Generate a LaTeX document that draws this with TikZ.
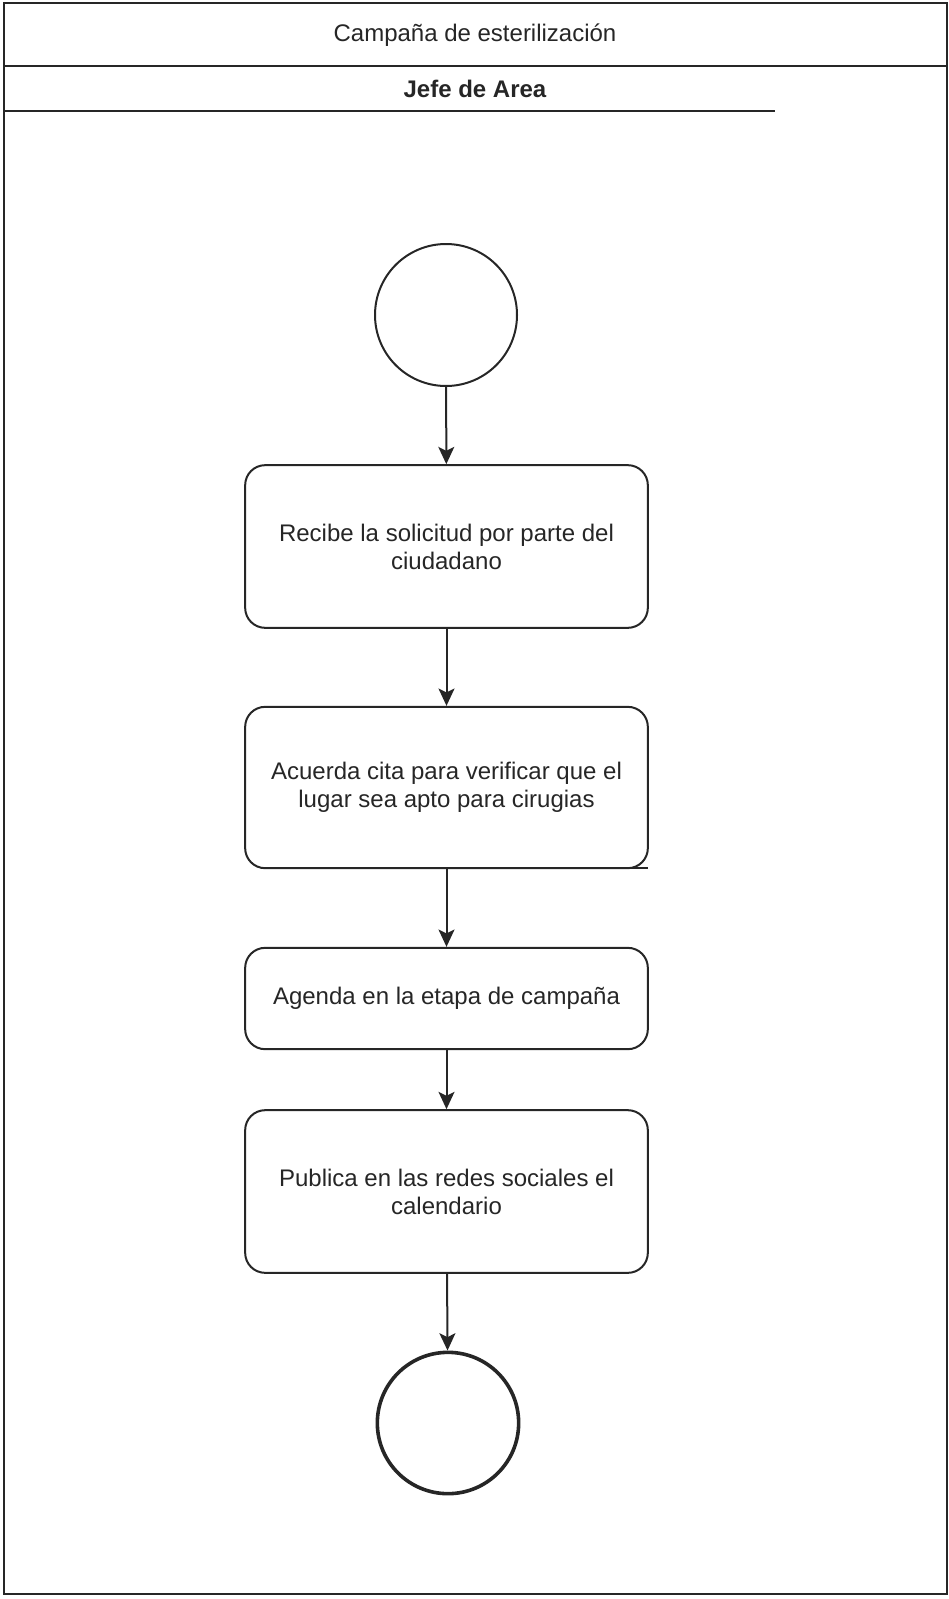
\documentclass[tikz,border=0pt]{standalone}
\usepackage{fontspec}
\setmainfont{Liberation Sans}
\usepackage{tikz}
\usetikzlibrary{arrows.meta}

\colorlet{ink}{black!85}

\tikzset{
    % activity boxes of the lane
    actbox/.style={draw=ink, line width=1.5pt, rounded corners=15pt,
        minimum width=302pt, align=center, text=ink,
        font=\fontsize{18}{21}\selectfont},
    startnode/.style={draw=ink, circle, line width=1.5pt, minimum size=106.5pt},
    endnode/.style={draw=ink, circle, line width=2.7pt, minimum size=106pt},
    flow/.style={draw=ink, line width=1.5pt,
        -{Stealth[length=13pt,width=12pt,inset=3pt]}}
}

\begin{document}
\begin{tikzpicture}[x=0.75pt, y=-0.75pt]
% Fix the page to the size of the scan
\useasboundingbox (0,0) rectangle (949,1599);
% Frame of the pool and its two header bands
\draw[ink, line width=1.2pt] (4,3) rectangle (947,1594);
\draw[ink, line width=1.5pt] (4,66) -- (947,66);
\draw[ink, line width=1.5pt] (4,111) -- (775,111);
\node (pool) at (475,35) {\fontsize{18}{21}\selectfont\color{ink}Campaña de esterilización};
\node (lane) at (475,89) {\fontsize{18}{21}\selectfont\bfseries\color{ink}Jefe de Area};

% The flow itself, top to bottom,
% start circle, four steps
% and the final circle.
\node[startnode] (inicio) at (446,315) {};
\node[actbox, minimum height=122pt] (recibe) at (446.5,546.5)
    {Recibe la solicitud por parte del\\ciudadano};
\node[actbox, minimum height=121pt] (acuerda) at (446.5,787.5)
    {Acuerda cita para verificar que el\\lugar sea apto para cirugias};
\node[actbox, minimum height=76pt] (agenda) at (446.5,998.5)
    {Agenda en la etapa de campaña};
\node[actbox, minimum height=122pt] (publica) at (446.5,1191.5)
    {Publica en las redes sociales el\\calendario};
\node[endnode] (fin) at (448,1423) {};

% stray stroke under the second box
\coordinate (trazoA) at (463,868);
\coordinate (trazoB) at (648,868);
\draw[ink, line width=1.5pt] (trazoA) -- (trazoB);

% Connectors, always by node name
\draw[flow] (inicio) -- (recibe);
\draw[flow] (recibe) -- (acuerda);
\draw[flow] (acuerda) -- (agenda);
\draw[flow] (agenda) -- (publica);
\draw[flow] (publica) -- (fin);
\end{tikzpicture}
\end{document}
